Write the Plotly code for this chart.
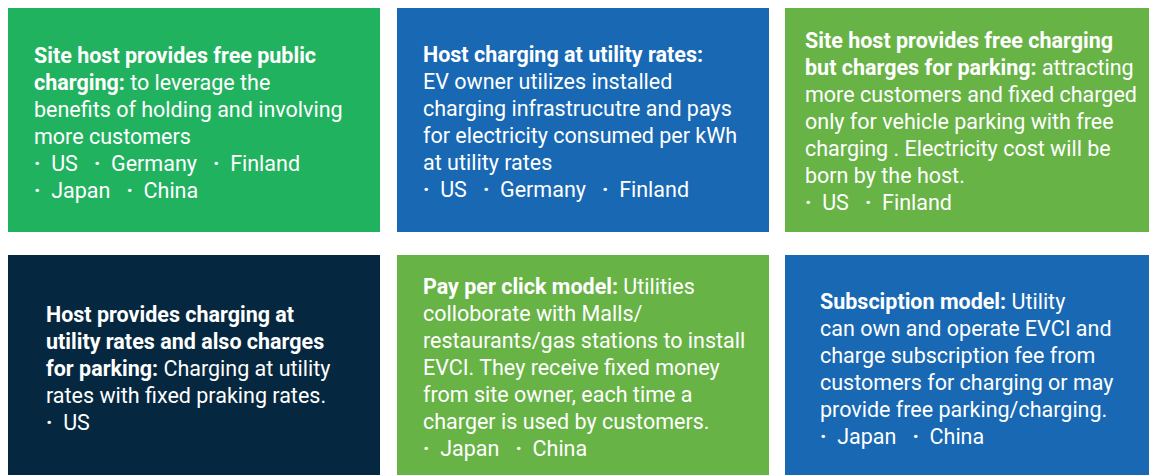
import plotly.graph_objects as go

# Content of the six panels (row-major); each entry is a list of text lines
panel_lines = [
    ["<b>Site host provides free public</b>",
     "<b>charging:</b> to leverage the",
     "benefits of holding and involving",
     "more customers"],
    ["<b>Host charging at utility rates:</b>",
     "EV owner utilizes installed",
     "charging infrastrucutre and pays",
     "for electricity consumed per kWh",
     "at utility rates"],
    ["<b>Site host provides free charging</b>",
     "<b>but charges for parking:</b> attracting",
     "more customers and fixed charged",
     "only for vehicle parking with free",
     "charging . Electricity cost will be",
     "born by the host."],
    ["<b>Host provides charging at</b>",
     "<b>utility rates and also charges</b>",
     "<b>for parking:</b> Charging at utility",
     "rates with fixed praking rates."],
    ["<b>Pay per click model:</b> Utilities",
     "colloborate with Malls/",
     "restaurants/gas stations to install",
     "EVCI. They receive fixed money",
     "from site owner, each time a",
     "charger is used by customers."],
    ["<b>Subsciption model:</b> Utility",
     "can own and operate EVCI and",
     "charge subscription fee from",
     "customers for charging or may",
     "provide free parking/charging."],
]
countries = [
    [["US", "Germany", "Finland"], ["Japan", "China"]],
    [["US", "Germany", "Finland"]],
    [["US", "Finland"]],
    [["US"]],
    [["Japan", "China"]],
    [["Japan", "China"]],
]
colors = ["#21B25F", "#1868B4", "#68B346", "#052840", "#68B346", "#1868B4"]

# Layout geometry (pixels)
box_x = [(8, 380), (397, 769), (785, 1149)]
box_y = [(8, 232), (255, 475)]
text_x = [33, 422, 804, 45, 422, 819]
first_baseline = [62, 61, 47, 321, 293, 308]
line_step = 27
FONT = "Roboto"
FS = 21.5

W, H = 1149, 475
fig = go.Figure()

bullet = "<b>·</b>"
for i in range(6):
    r, c = divmod(i, 3)
    x0, x1 = box_x[c]
    y0, y1 = box_y[r]
    fig.add_shape(type="rect", x0=x0, x1=x1, y0=y0, y1=y1,
                  fillcolor=colors[i], line=dict(width=0), layer="below")
    lines = list(panel_lines[i])
    for row in countries[i]:
        lines.append("   ".join(f"{bullet}  {n}" for n in row))
    for k, ln in enumerate(lines):
        base = first_baseline[i] + k * line_step
        fig.add_annotation(x=text_x[i], y=base - 7, xanchor="left", yanchor="middle",
                           text=ln, showarrow=False, align="left", borderpad=0,
                           font=dict(family=FONT, size=FS, color="white"))

fig.update_xaxes(range=[0, W], visible=False, fixedrange=True)
fig.update_yaxes(range=[H, 0], visible=False, fixedrange=True)
fig.update_layout(width=W, height=H, margin=dict(l=0, r=0, t=0, b=0),
                  paper_bgcolor="white", plot_bgcolor="white", showlegend=False)
fig.write_html("out.html", config={"displayModeBar": False},
               post_script="document.body.style.margin='0';document.body.style.overflow='hidden';")
